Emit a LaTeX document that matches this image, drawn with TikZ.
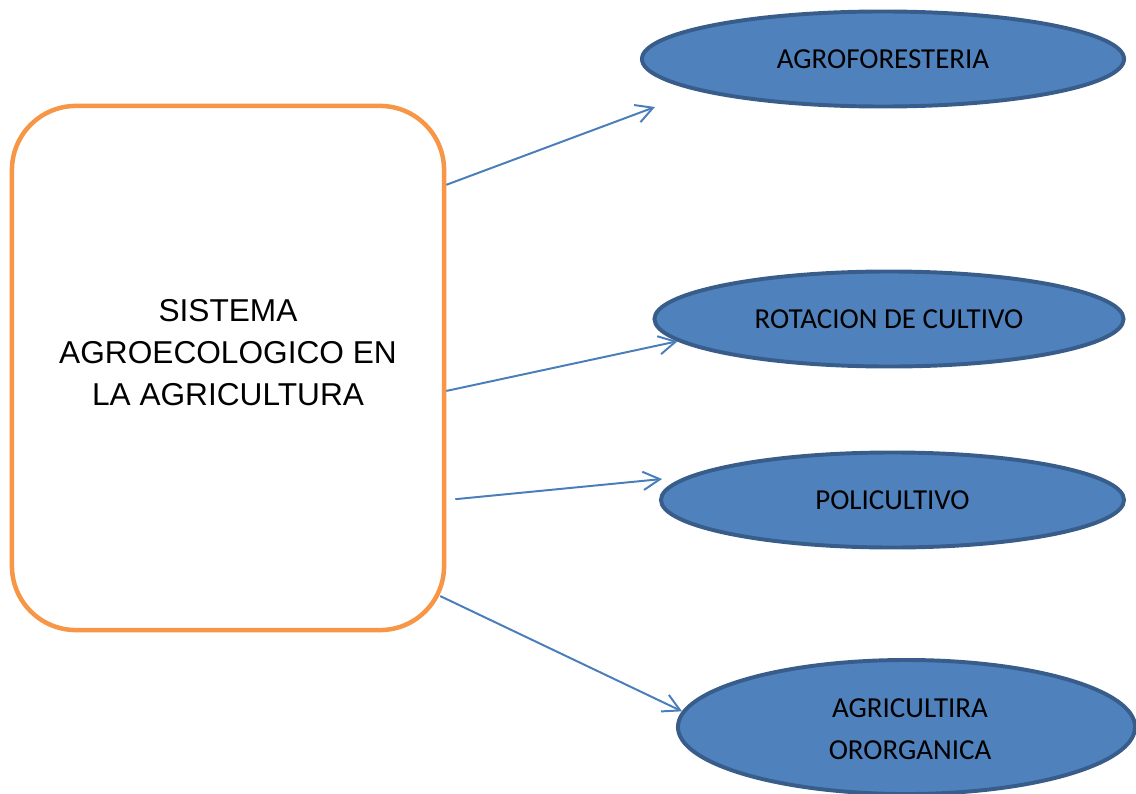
\documentclass[tikz,border=0pt]{standalone}
\usepackage{fontspec}
\setmainfont{Liberation Sans}
\newfontfamily\calibri{Carlito}
\usetikzlibrary{shapes.geometric,arrows.meta}
\definecolor{naranja}{HTML}{F79646}
\definecolor{azul}{HTML}{4F81BD}
\definecolor{bordeazul}{HTML}{385D8A}
\definecolor{linea}{HTML}{4A7EBB}
\begin{document}
\begin{tikzpicture}[x=0.025cm, y=-0.025cm,
        caja/.style = {draw=naranja, line width=3.2pt, rounded corners=1.6cm, minimum width=10.8cm, minimum height=13.1cm},
        elip/.style = {draw=bordeazul, fill=azul, ellipse, line width=2.8pt, inner sep=0pt, minimum height=2.375cm, align=center, font=\calibri\fontsize{20.6}{29.9}\selectfont},
        flecha/.style = {draw=linea, line width=1.4pt, -{Straight Barb[length=12pt,width=13pt]}}]
    \useasboundingbox (0,0) rectangle (1136,794);
    \node[caja] (sis) at (228,368) {};
    \node[align=center, font=\fontsize{22.5}{29.9}\selectfont] (tit) at (228,353) {SISTEMA\\AGROECOLOGICO EN\\LA AGRICULTURA};
    \node[elip, minimum width=12.05cm] (agro) at (883,59) {AGROFORESTERIA};
    \node[elip, minimum width=11.425cm, minimum height=3.35cm] (orga) at (906.5,727) {};
    \node[align=center, font=\calibri\fontsize{20.6}{29.9}\selectfont] (orgatxt) at (910,729) {AGRICULTIRA\\ORORGANICA};
    \node[elip, minimum width=11.725cm] (rot) at (889,319) {ROTACION DE CULTIVO};
    \node[elip, minimum width=11.575cm] (poli) at (892.5,500) {POLICULTIVO};
    \coordinate (p1) at (655,107);
    \coordinate (p3) at (662,479);
    \draw[flecha] (sis.40.6) -- (p1);
    \draw[flecha] (sis.-6.6) -- (rot.186);
    \draw[flecha] ([xshift=0.225cm]sis.-31.4) -- (p3);
    \draw[flecha] ([xshift=-0.15cm,yshift=0.15cm]sis.-47) -- (orga.176);
\end{tikzpicture}
\end{document}
